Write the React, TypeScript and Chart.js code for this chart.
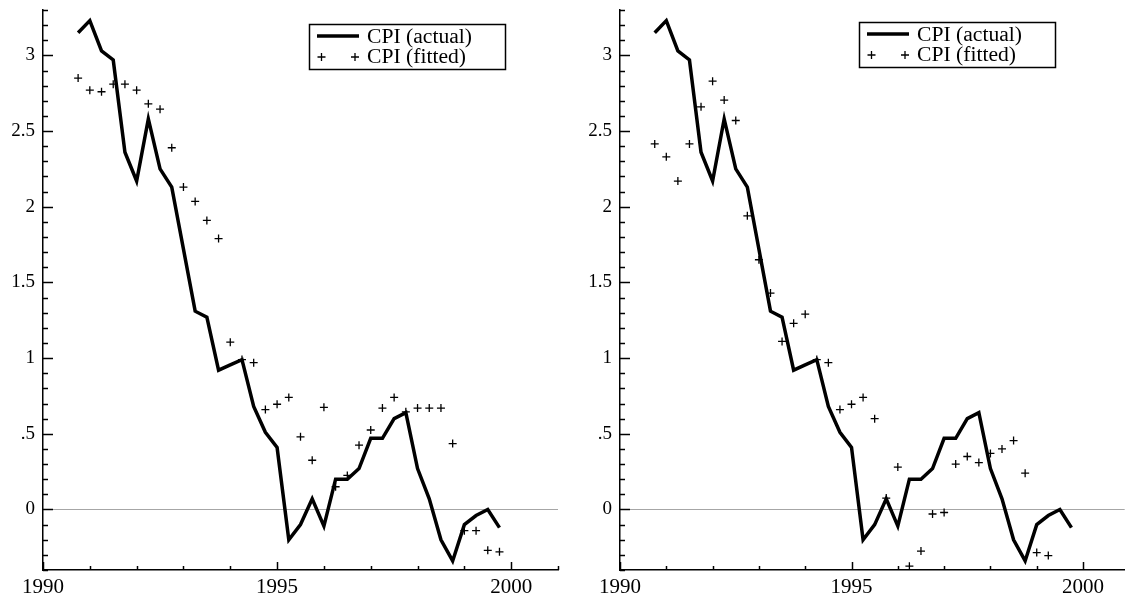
import React, { useEffect, useRef } from "react";
import { Chart, registerables } from "chart.js";

Chart.register(...registerables);

// ---- Data ----
const quarters = [
  1990.75, 1991.0, 1991.25, 1991.5, 1991.75, 1992.0, 1992.25, 1992.5, 1992.75,
  1993.0, 1993.25, 1993.5, 1993.75, 1994.0, 1994.25, 1994.5, 1994.75, 1995.0,
  1995.25, 1995.5, 1995.75, 1996.0, 1996.25, 1996.5, 1996.75, 1997.0, 1997.25,
  1997.5, 1997.75, 1998.0, 1998.25, 1998.5, 1998.75, 1999.0, 1999.25, 1999.5,
  1999.75,
];

const cpiActual = [
  3.15, 3.23, 3.03, 2.97, 2.36, 2.17, 2.58, 2.25, 2.13,
  1.72, 1.31, 1.27, 0.92, 0.955, 0.99, 0.68, 0.51, 0.41,
  -0.2, -0.1, 0.07, -0.11, 0.2, 0.2, 0.27, 0.47, 0.47,
  0.6, 0.64, 0.27, 0.07, -0.2, -0.34, -0.1, -0.04, 0.0,
  -0.12,
];

const cpiFittedLeft = [
  2.85, 2.77, 2.76, 2.81, 2.81, 2.77, 2.68, 2.645, 2.39,
  2.13, 2.035, 1.91, 1.79, 1.105, 0.99, 0.97, 0.66, 0.695,
  0.74, 0.48, 0.325, 0.675, 0.15, 0.225, 0.425, 0.525, 0.67,
  0.74, 0.645, 0.67, 0.67, 0.67, 0.435, -0.14, -0.14, -0.27,
  -0.28,
];

const cpiFittedRight = [
  2.415, 2.33, 2.17, 2.415, 2.66, 2.83, 2.705, 2.57, 1.94,
  1.65, 1.43, 1.11, 1.23, 1.29, 0.99, 0.97, 0.66, 0.695,
  0.74, 0.6, 0.075, 0.28, -0.375, -0.275, -0.03, -0.02, 0.3,
  0.35, 0.31, 0.37, 0.4, 0.455, 0.24, -0.285, -0.305, null,
  null,
];

const seriesLabels = ["CPI (actual)", "CPI (fitted)"];
const xTickLabels = [1990, 1995, 2000];
const yTickLabels = [0, 0.5, 1, 1.5, 2, 2.5, 3];

const FONT = "'Liberation Serif', 'DejaVu Serif', serif";

// ---- Decoration plugin: inward ticks + boxed legend ----
const decorPlugin = {
  id: "stataDecor",
  afterDraw(chart: any, _args: any, opts: any) {
    const { ctx } = chart;
    const xs = chart.scales.x;
    const ys = chart.scales.y;
    const axisX = ys.right;
    const axisY = xs.top;
    ctx.save();
    ctx.strokeStyle = "#000";
    ctx.lineWidth = 1.5;
    // y ticks every 0.1, longer at every 0.5
    const kMin = Math.ceil(ys.min * 10 - 1e-6);
    const kMax = Math.floor(ys.max * 10 + 1e-6);
    for (let k = kMin; k <= kMax; k++) {
      const py = Math.round(ys.getPixelForValue(k / 10)) + 0.5;
      const len = k % 5 === 0 ? 10 : 5;
      ctx.beginPath();
      ctx.moveTo(axisX, py);
      ctx.lineTo(axisX + len, py);
      ctx.stroke();
    }
    // x ticks each year, longer every 5 years
    for (let yr = Math.ceil(xs.min); yr <= Math.floor(xs.max + 1e-6); yr++) {
      const px = Math.round(xs.getPixelForValue(yr)) + 0.5;
      const len = yr % 5 === 0 ? 8 : 4;
      ctx.beginPath();
      ctx.moveTo(px, axisY);
      ctx.lineTo(px, axisY - len);
      ctx.stroke();
    }

    // legend
    const lx = opts.x;
    const ly = opts.y;
    ctx.lineWidth = 1.5;
    ctx.strokeRect(lx + 0.5, ly + 0.5, 196, 45);
    const ds = chart.data.datasets;
    // row 1: line sample
    ctx.lineWidth = ds[0].borderWidth;
    ctx.beginPath();
    ctx.moveTo(lx + 8, ly + 12);
    ctx.lineTo(lx + 50, ly + 12);
    ctx.stroke();
    // row 2: two crosses
    ctx.lineWidth = ds[1].borderWidth;
    const r = ds[1].pointRadius;
    [lx + 12.5, lx + 46].forEach((cx) => {
      const cy = ly + 33;
      ctx.beginPath();
      ctx.moveTo(cx - r, cy);
      ctx.lineTo(cx + r, cy);
      ctx.moveTo(cx, cy - r);
      ctx.lineTo(cx, cy + r);
      ctx.stroke();
    });
    ctx.fillStyle = "#000";
    ctx.font = `20px ${FONT}`;
    ctx.textBaseline = "alphabetic";
    ctx.textAlign = "left";
    // slight horizontal stretch, as in the reference rendering
    ctx.save();
    ctx.translate(lx + 58, 0);
    ctx.scale(1.08, 1);
    ctx.fillText(ds[0].label, 0, ly + 19);
    ctx.fillText(ds[1].label, 0, ly + 39);
    ctx.restore();
    ctx.restore();
  },
};

type PanelProps = {
  fitted: (number | null)[];
  axisWidth: number;
  xMax: number;
  padRight: number;
  legendX: number;
  legendY: number;
};

function Panel({ fitted, axisWidth, xMax, padRight, legendX, legendY }: PanelProps) {
  const ref = useRef<HTMLCanvasElement | null>(null);
  useEffect(() => {
    if (!ref.current) return;
    const chart = new Chart(ref.current, {
      type: "line",
      data: {
        datasets: [
          {
            label: seriesLabels[0],
            data: quarters.map((q, i) => ({ x: q, y: cpiActual[i] })),
            borderColor: "#000",
            backgroundColor: "#000",
            borderWidth: 3.5,
            pointRadius: 0,
            borderJoinStyle: "miter",
            tension: 0,
            order: 2,
          },
          {
            label: seriesLabels[1],
            data: quarters.map((q, i) => ({ x: q, y: fitted[i] })),
            showLine: false,
            borderColor: "#000",
            backgroundColor: "#000",
            borderWidth: 1.3,
            pointStyle: "cross",
            pointRadius: 4,
            order: 1,
          },
        ] as any,
      },
      options: {
        animation: false,
        responsive: false,
        maintainAspectRatio: false,
        events: [],
        layout: { padding: { top: 10, right: padRight, left: 0, bottom: 0 } },
        plugins: {
          legend: { display: false },
          tooltip: { enabled: false },
          stataDecor: { x: legendX, y: legendY },
        } as any,
        scales: {
          x: {
            type: "linear",
            min: 1990,
            max: xMax,
            afterBuildTicks: (s: any) => {
              s.ticks = xTickLabels.map((v) => ({ value: v }));
            },
            afterFit: (s: any) => {
              s.height = 29;
              s.paddingLeft = 0;
              s.paddingRight = 0;
            },
            grid: { display: false, drawTicks: false },
            border: { display: true, color: "#000", width: 1.5 },
            ticks: {
              autoSkip: false,
              maxRotation: 0,
              padding: 5,
              color: "#000",
              font: { family: FONT, size: 21 },
              callback: (v: any) => String(v),
            },
          },
          y: {
            type: "linear",
            min: -0.4,
            max: 3.3,
            afterBuildTicks: (s: any) => {
              s.ticks = yTickLabels.map((v) => ({ value: v }));
            },
            afterFit: (s: any) => {
              s.width = axisWidth;
              s.paddingTop = 0;
              s.paddingBottom = 0;
            },
            grid: {
              drawTicks: false,
              lineWidth: 1,
              color: (c: any) => (c.tick && c.tick.value === 0 ? "#a6a6a6" : "rgba(0,0,0,0)"),
            },
            border: { display: true, color: "#000", width: 1.5 },
            ticks: {
              padding: 8,
              color: "#000",
              font: { family: FONT, size: 19 },
              callback: (v: any) => (v === 0.5 ? ".5" : String(v)),
            },
          },
        },
      },
      plugins: [decorPlugin],
    });
    return () => chart.destroy();
  }, [fitted, axisWidth, xMax, padRight, legendX, legendY]);
  return <canvas ref={ref} width={565} height={599} style={{ display: "block" }} />;
}

export default function App() {
  return (
    <div
      style={{
        position: "absolute",
        left: 0,
        top: 0,
        width: 1130,
        height: 599,
        overflow: "hidden",
        background: "#fff",
      }}
    >
      <div style={{ position: "absolute", left: 0, top: 0 }}>
        <Panel fitted={cpiFittedLeft} axisWidth={43} xMax={2001} padRight={7} legendX={309} legendY={24} />
      </div>
      <div style={{ position: "absolute", left: 565, top: 0 }}>
        <Panel fitted={cpiFittedRight} axisWidth={55} xMax={2000.9} padRight={0} legendX={294} legendY={22} />
      </div>
    </div>
  );
}
